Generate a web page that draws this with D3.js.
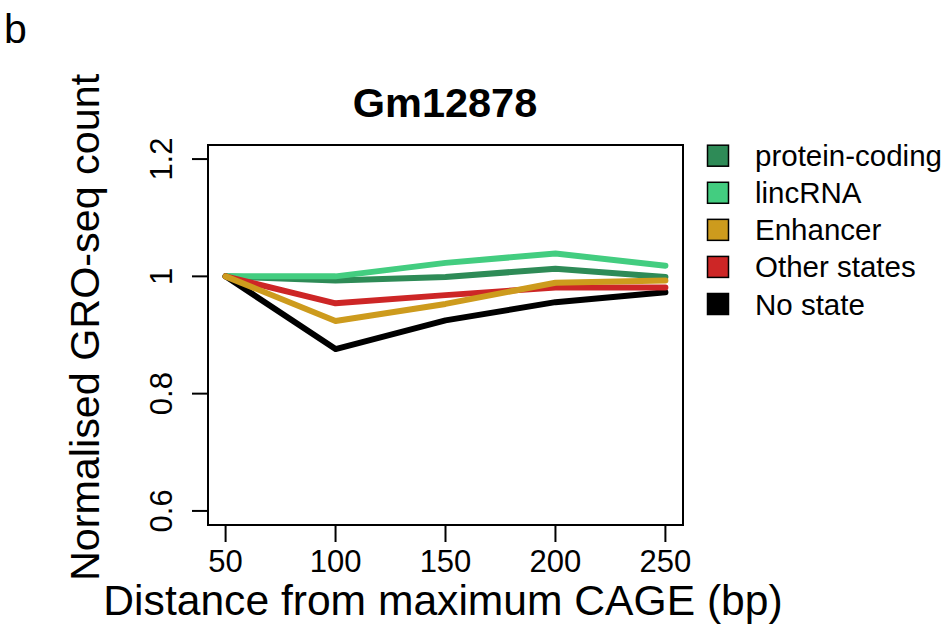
<!DOCTYPE html>
<html>
<head>
<meta charset="utf-8">
<script src="https://cdn.jsdelivr.net/npm/d3@7"></script>
<style>
  html, body { margin: 0; padding: 0; background: #fff; }
  svg { display: block; }
  text { font-family: "Liberation Sans", Arial, Helvetica, sans-serif; fill: #000; }
</style>
</head>
<body>
<script>
// ---- data ----
const distances = [50, 100, 150, 200, 250];
const seriesNames = ["protein-coding", "lincRNA", "Enhancer", "Other states", "No state"];
const seriesColors = ["#2E8B57", "#43CD80", "#CD9B1D", "#CD2626", "#000000"];
const proteinCoding = [1.000, 0.993, 0.999, 1.013, 0.999];
const lincRNA       = [1.000, 1.000, 1.023, 1.039, 1.018];
const enhancer      = [1.000, 0.924, 0.953, 0.989, 0.993];
const otherStates   = [1.000, 0.954, 0.968, 0.981, 0.981];
const noState       = [1.000, 0.876, 0.925, 0.956, 0.973];
const yTicks = [0.6, 0.8, 1.0, 1.2];
const yTickLabels = ["0.6", "0.8", "1", "1.2"];
const xTicks = [50, 100, 150, 200, 250];
const title = "Gm12878";
const panelLabel = "b";
const xLabel = "Distance from maximum CAGE (bp)";
const yLabel = "Normalised GRO-seq count";

(function () {
const seriesValues = [proteinCoding, lincRNA, enhancer, otherStates, noState];
const drawOrder = [0, 1, 4, 3, 2];

const W = 949, H = 626;
const svg = d3.select("body").append("svg").attr("width", W).attr("height", H);

// plot region (R-style 4% extension)
const pl = 208, pr = 683, pt = 145, pb = 525;
const x = d3.scaleLinear().domain([42, 258]).range([pl, pr]);
const y = d3.scaleLinear().domain([0.576, 1.224]).range([pb, pt]);

// box
svg.append("rect")
  .attr("x", pl).attr("y", pt)
  .attr("width", pr - pl).attr("height", pb - pt)
  .attr("fill", "none").attr("stroke", "#000").attr("stroke-width", 2);

// lines
const line = d3.line().x((d, i) => x(distances[i])).y(d => y(d));
drawOrder.forEach(k => {
  svg.append("path")
    .datum(seriesValues[k])
    .attr("d", line)
    .attr("fill", "none")
    .attr("stroke", seriesColors[k])
    .attr("stroke-width", 6)
    .attr("stroke-linecap", "round")
    .attr("stroke-linejoin", "round");
});

// x axis
const xAxis = svg.append("g");
xAxis.selectAll("line").data(xTicks).enter().append("line")
  .attr("x1", d => x(d)).attr("x2", d => x(d))
  .attr("y1", pb).attr("y2", pb + 17)
  .attr("stroke", "#000").attr("stroke-width", 2);
xAxis.selectAll("text").data(xTicks).enter().append("text")
  .attr("x", d => x(d)).attr("y", 572)
  .attr("text-anchor", "middle")
  .attr("font-size", 31)
  .text(d => d);

// y axis
const yAxis = svg.append("g");
yAxis.selectAll("line").data(yTicks).enter().append("line")
  .attr("x1", pl - 16).attr("x2", pl)
  .attr("y1", d => y(d)).attr("y2", d => y(d))
  .attr("stroke", "#000").attr("stroke-width", 2);
yAxis.selectAll("text").data(yTicks).enter().append("text")
  .attr("transform", d => `translate(172,${y(d)}) rotate(-90)`)
  .attr("text-anchor", "middle")
  .attr("font-size", 31)
  .text((d, i) => yTickLabels[i]);

// title
svg.append("text")
  .attr("x", 445).attr("y", 117)
  .attr("text-anchor", "middle")
  .attr("font-size", 41.5).attr("font-weight", "bold")
  .text(title);

// panel label
svg.append("text")
  .attr("x", 4).attr("y", 43)
  .attr("font-size", 41)
  .text(panelLabel);

// x label
svg.append("text")
  .attr("x", 443).attr("y", 615)
  .attr("text-anchor", "middle")
  .attr("font-size", 42.6)
  .text(xLabel);

// y label
svg.append("text")
  .attr("transform", `translate(99,327.5) rotate(-90)`)
  .attr("text-anchor", "middle")
  .attr("font-size", 41.3)
  .text(yLabel);

// legend
const legendY = d3.scalePoint().domain(seriesNames).range([155.7, 304]);
const lg = svg.append("g");
seriesNames.forEach((name, i) => {
  const cy = legendY(name);
  lg.append("rect")
    .attr("x", 707.5).attr("y", cy - 10.5)
    .attr("width", 21).attr("height", 21)
    .attr("fill", seriesColors[i])
    .attr("stroke", "#000").attr("stroke-width", 1.5);
  lg.append("text")
    .attr("x", 755).attr("y", cy + 10.5)
    .attr("font-size", 29.5)
    .text(name);
});
})();
</script>
</body>
</html>
